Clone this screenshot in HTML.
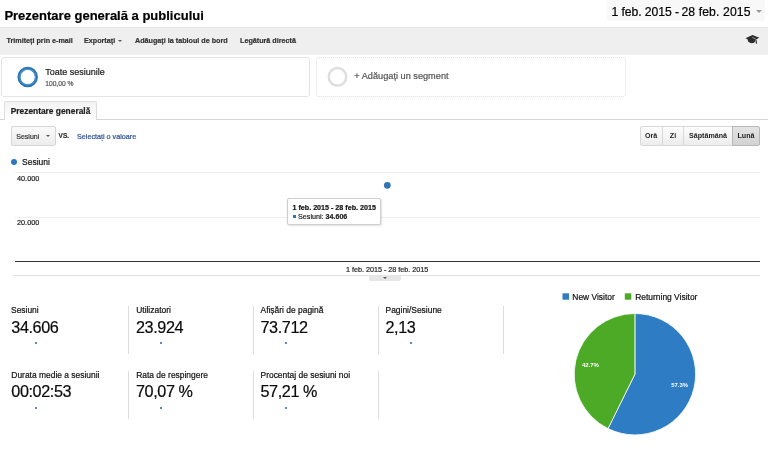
<!DOCTYPE html>
<html lang="ro">
<head>
<meta charset="utf-8">
<title>Prezentare generală a publicului</title>
<style>
html,body{margin:0;padding:0;}
body{width:768px;height:454px;overflow:hidden;background:#fff;font-family:"Liberation Sans",sans-serif;color:#222;position:relative;}
.abs{position:absolute;white-space:nowrap;}
span.abs{line-height:1;-webkit-text-stroke:0.2px;}
#title{left:4.4px;top:8.8px;font-size:13px;font-weight:bold;color:#000;}
#daterange{left:607px;top:0;width:158px;height:21px;background:#f8f8f8;border-radius:2px;}
#daterange span{left:4.5px;top:5.8px;font-size:12.2px;color:#000;}
#daterange i{position:absolute;left:149.4px;top:10.3px;width:0;height:0;border-left:3.3px solid transparent;border-right:3.3px solid transparent;border-top:3px solid #999;}
#toolbar{left:0;top:27px;width:768px;height:28px;background:linear-gradient(#efefef 26.4px,#f9f9f9 27px);border-top:1px solid #e6e6e6;box-sizing:border-box;}
#toolbar span{top:9px;font-size:7.2px;font-weight:bold;color:#333;}
.caret{position:absolute;width:0;height:0;border-left:2.5px solid transparent;border-right:2.5px solid transparent;border-top:2.5px solid #555;}
#seg1{left:1px;top:57px;width:309px;height:40px;border:1px solid #e4e4e4;border-radius:3px;box-sizing:border-box;background:#fff;}
#seg2{left:316px;top:57px;width:310px;height:40px;border:1px dotted #dedede;border-radius:3px;box-sizing:border-box;background:#fff;}
#tab{left:4px;top:101px;width:93px;height:19px;border:1px solid #ddd;border-bottom:none;border-radius:2px 2px 0 0;box-sizing:border-box;background:linear-gradient(#f3f3f3,#fff);z-index:2;}
#tab span{left:5.7px;top:4.6px;font-size:8.4px;font-weight:bold;color:#222;}
#tabline{left:0;top:119px;width:768px;height:1px;background:#d4d4d4;}
#sel{left:11px;top:126px;width:45px;height:20px;border:1px solid #d6d6d6;border-radius:2px;box-sizing:border-box;background:linear-gradient(#fafafa,#ececec);}
.btn{top:126px;height:20px;border:1px solid #d8d8d8;box-sizing:border-box;background:linear-gradient(#fdfdfd,#ececec);font-size:7.1px;font-weight:bold;color:#222;text-align:center;line-height:19.4px;}
.lab{font-size:8.45px;color:#111;}
.val{font-size:16.2px;color:#0a0a0a;letter-spacing:-0.4px;margin-top:-1.1px;}
.dot{position:absolute;width:2px;height:2px;background:#2d5fa8;border-radius:1px;margin-left:1px;}
.vsep{position:absolute;width:1px;background:#ddd;}
</style>
</head>
<body>
<span id="title" class="abs">Prezentare generală a publicului</span>
<div id="daterange" class="abs"><span class="abs" style="letter-spacing:-0.08px">1 feb. 2015</span><span class="abs" style="left:68px">-</span><span class="abs" style="left:74.4px;letter-spacing:0.12px">28 feb. 2015</span><i></i></div>

<div id="toolbar" class="abs">
  <span class="abs" style="left:6.5px">Trimiteți prin e-mail</span>
  <span class="abs" style="left:84px">Exportați</span><i class="caret" style="left:118.3px;top:11.8px;border-top-width:2.8px"></i>
  <span class="abs" style="left:135px">Adăugați la tabloul de bord</span>
  <span class="abs" style="left:240px">Legătură directă</span>
  <svg style="position:absolute;left:745px;top:6px" width="16" height="12" viewBox="0 0 16 12"><path d="M2.4 4.6 L3.2 7.8 Q6.8 10.4 9.9 7.9 L10.3 4.6 Z" fill="#2e2e2e"/><path d="M0.4 4.3 L7.5 0.9 L14.4 3.8 L7.3 7.3 Z" fill="#2b2b2b"/><path d="M7.3 3.6 Q10.4 3.9 10.9 5.6" fill="none" stroke="#c8c8c8" stroke-width="0.7"/><path d="M10.9 5.5 L11.5 9.7" stroke="#333" stroke-width="1.2"/></svg>
</div>

<div id="seg1" class="abs">
  <svg style="position:absolute;left:14px;top:8px" width="24" height="24" viewBox="0 0 24 24"><circle cx="11.7" cy="11.1" r="8.75" fill="none" stroke="#2b74b3" stroke-width="3"/><circle cx="11.7" cy="11.1" r="7.9" fill="none" stroke="#4a94d2" stroke-width="1.2"/></svg>
  <span class="abs" style="left:43.2px;top:9.8px;font-size:9px;color:#1a1a1a;">Toate sesiunile</span>
  <span class="abs" style="left:43.2px;top:22.8px;font-size:6.7px;color:#555;">100,00 %</span>
</div>
<div id="seg2" class="abs">
  <svg style="position:absolute;left:10px;top:8px" width="24" height="24" viewBox="0 0 24 24"><circle cx="10.5" cy="10.85" r="8.75" fill="none" stroke="#dedede" stroke-width="2.5"/></svg>
  <span class="abs" style="left:37.3px;top:13.8px;font-size:9.2px;color:#555;">+ Adăugați un segment</span>
</div>

<div id="tab" class="abs"><span class="abs">Prezentare generală</span></div>
<div id="tabline" class="abs"></div>

<div id="sel" class="abs"><span class="abs" style="left:4.3px;top:5.8px;font-size:7px;color:#333;">Sesiuni</span><i class="caret" style="left:34px;top:8.3px;border-left-width:2.6px;border-right-width:2.6px;"></i></div>
<span class="abs" style="left:58.6px;top:133.3px;font-size:6.5px;font-weight:bold;color:#333;">VS.</span>
<span class="abs" style="left:77px;top:132.8px;font-size:7.2px;color:#2c4e96;">Selectați o valoare</span>

<div class="abs btn" style="left:640px;width:23px;border-radius:2px 0 0 2px;text-indent:-1px;">Oră</div>
<div class="abs btn" style="left:662px;width:22px;">Zi</div>
<div class="abs btn" style="left:683px;width:50px;">Săptămână</div>
<div class="abs btn" style="left:732px;width:28px;border-radius:0 2px 2px 0;background:linear-gradient(#e4e4e4,#d2d2d2);border-color:#b8b8b8;">Lună</div>

<!-- chart -->
<i class="abs" style="left:11px;top:159px;width:6px;height:6px;border-radius:3px;background:#2a78bd;"></i>
<span class="abs lab" style="left:22px;top:158px;font-size:8.5px;">Sesiuni</span>
<div class="abs" style="left:15px;top:172px;width:745px;height:1px;background:#eeeeee;"></div>
<span class="abs" style="left:17px;top:175px;font-size:7.3px;color:#222;">40.000</span>
<div class="abs" style="left:15px;top:217px;width:745px;height:1px;background:#eeeeee;"></div>
<span class="abs" style="left:17px;top:219.3px;font-size:7.3px;color:#222;">20.000</span>
<div class="abs" style="left:15px;top:261px;width:745px;height:1px;background:#333;"></div>
<div class="abs" style="left:13px;top:275px;width:747px;height:1px;background:#e2e2e2;"></div>
<span class="abs" style="left:346px;top:266px;font-size:7.2px;color:#222;">1 feb. 2015 - 28 feb. 2015</span>
<div class="abs" style="left:369px;top:275px;width:32px;height:6px;background:#e6e6e6;border-radius:0 0 2px 2px;"></div>
<i class="caret" style="left:383px;top:276.6px;border-top-color:#555;"></i>
<svg class="abs" style="left:380px;top:178px" width="16" height="14" viewBox="0 0 16 14"><circle cx="7.3" cy="7.35" r="3.4" fill="#3374b4"/></svg>
<div class="abs" style="left:287px;top:198px;width:94px;height:27px;border:1px solid #cfcfcf;box-sizing:border-box;background:#fff;box-shadow:0.5px 1px 2px rgba(0,0,0,0.12);border-radius:2px;">
  <span class="abs" style="left:4.5px;top:5.8px;font-size:7.15px;font-weight:bold;color:#111;">1 feb. 2015 - 28 feb. 2015</span>
  <i class="abs" style="left:4.5px;top:16px;width:3px;height:3px;background:#2478c2;"></i>
  <span class="abs" style="left:10.1px;top:14.6px;font-size:7.15px;color:#222;">Sesiuni: <b>34.606</b></span>
</div>

<!-- metrics -->
<span class="abs lab" style="left:11px;top:306px;">Sesiuni</span><span class="abs val" style="left:11.3px;top:319.7px;">34.606</span><i class="dot" style="left:34px;top:342px"></i>
<span class="abs lab" style="left:136.2px;top:306px;">Utilizatori</span><span class="abs val" style="left:136px;top:319.7px;">23.924</span><i class="dot" style="left:159px;top:342px"></i>
<span class="abs lab" style="left:260.5px;top:306px;">Afișări de pagină</span><span class="abs val" style="left:260.5px;top:319.7px;">73.712</span><i class="dot" style="left:284px;top:342px"></i>
<span class="abs lab" style="left:385.5px;top:306px;">Pagini/Sesiune</span><span class="abs val" style="left:385.5px;top:319.7px;">2,13</span><i class="dot" style="left:409px;top:342px"></i>
<span class="abs lab" style="left:11.3px;top:371.4px;">Durata medie a sesiunii</span><span class="abs val" style="left:11.3px;top:384.3px;">00:02:53</span><i class="dot" style="left:34px;top:407px"></i>
<span class="abs lab" style="left:136.2px;top:371.4px;">Rata de respingere</span><span class="abs val" style="left:136px;top:384.3px;">70,07 %</span><i class="dot" style="left:159px;top:407px"></i>
<span class="abs lab" style="left:260.5px;top:371.4px;">Procentaj de sesiuni noi</span><span class="abs val" style="left:260.5px;top:384.3px;">57,21 %</span><i class="dot" style="left:284px;top:407px"></i>
<i class="vsep" style="left:128px;top:306px;height:48px"></i>
<i class="vsep" style="left:253px;top:306px;height:48px"></i>
<i class="vsep" style="left:378px;top:306px;height:48px"></i>
<i class="vsep" style="left:503px;top:306px;height:48px"></i>
<i class="vsep" style="left:128px;top:371px;height:48px"></i>
<i class="vsep" style="left:253px;top:371px;height:48px"></i>
<i class="vsep" style="left:378px;top:371px;height:48px"></i>

<!-- pie -->
<svg class="abs" style="left:560px;top:290px" width="12" height="12" viewBox="0 0 12 12"><rect x="2.5" y="3.3" width="6.5" height="6.4" fill="#2e7cc4"/></svg>
<span class="abs lab" style="left:572.3px;top:293px;font-size:8.45px;color:#111;">New Visitor</span>
<svg class="abs" style="left:622px;top:290px" width="12" height="12" viewBox="0 0 12 12"><rect x="2.8" y="3.3" width="6.5" height="6.4" fill="#4caa27"/></svg>
<span class="abs lab" style="left:635.2px;top:293px;font-size:8.45px;color:#111;">Returning Visitor</span>
<svg class="abs" style="left:569px;top:308px" width="132" height="132" viewBox="-66 -66 132 132">
  <g transform="translate(-0.1,0.2)">
  <path d="M0 0 L0 -60.7 A60.7 60.7 0 1 1 -26.88 54.42 Z" fill="#2e7cc4" stroke="#fff" stroke-width="0.8"/>
  <path d="M0 0 L-26.88 54.42 A60.7 60.7 0 0 1 0 -60.7 Z" fill="#4caa27" stroke="#fff" stroke-width="0.8"/>
  <text x="44.7" y="13" font-size="5.9" font-weight="bold" fill="#fff" text-anchor="middle" font-family="Liberation Sans, sans-serif">57.3%</text>
  <text x="-44.5" y="-7.4" font-size="6" font-weight="bold" fill="#fff" text-anchor="middle" font-family="Liberation Sans, sans-serif">42.7%</text>
  </g>
</svg>
</body>
</html>
